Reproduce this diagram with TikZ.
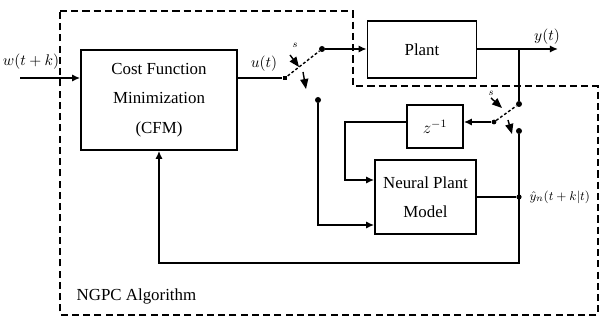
\documentclass[tikz,border=0pt]{standalone}
\usepackage{fontspec}
\setmainfont{Liberation Serif}
\usepackage{amsmath}
\usetikzlibrary{arrows.meta,positioning,calc}
\begin{document}
\begin{tikzpicture}[x=0.025cm, y=-0.025cm,
    block/.style={draw, rectangle, line width=1.2pt, align=center, font=\rmfamily\fontsize{12}{21}\selectfont},
    arrow/.style={-{Latex[length=2mm,width=1.8mm]}, line width=1.2pt},
    wire/.style={line width=1.2pt},
    contact/.style={circle, fill, inner sep=0pt, minimum size=1.5mm},
    blade/.style={dash pattern=on 2pt off 1.5pt, line width=1pt},
    swarrow/.style={-{Triangle[length=2.5mm,width=2mm]}, line width=1pt},
    border/.style={dash pattern=on 5pt off 3pt, line width=1pt},
    lbl/.style={font=\rmfamily\fontsize{11}{13}\selectfont, inner sep=1pt}
]
\useasboundingbox (0,0) rectangle (601,320);

\draw[border] (60,11) -- (353,11) -- (353,86) -- (598,86) -- (598,315) -- (60,315) -- cycle;

\node[block, minimum width=3.9cm, minimum height=2.5cm] (cfm) at (159,100) {Cost Function\\Minimization\\(CFM)};
\node[block, minimum width=2.725cm, minimum height=1.425cm] (plant) at (422,49.5) {Plant};
\node[block, minimum width=1.4cm, minimum height=1.075cm] (delay) at (435,126.5) {$z^{-1}$};
\node[block, minimum width=2.525cm, minimum height=1.85cm] (npm) at (425.5,197) {Neural Plant\\Model};

\coordinate (in) at (20,78);
\node[lbl] (ref) at (31,62) {$w(t+k)$};
\draw[arrow] (in) -- (in -| cfm.west);

\node[rectangle, fill, inner sep=0pt, minimum size=1.2mm] (piv1) at (285,78) {};
\node[contact] (up1) at (322,49) {};
\node[contact] (lo1) at (318,100) {};
\draw[wire] (cfm.east |- piv1) -- (piv1);
\node[lbl] (u) at (264,64) {$u(t)$};
\draw[blade] (piv1) -- (up1);
\coordinate (s1a) at (290,55);
\coordinate (s1b) at (299,67);
\coordinate (s1c) at (303,72);
\coordinate (s1d) at (306,89);
\draw[swarrow] (s1a) -- (s1b);
\draw[swarrow] (s1c) -- (s1d);
\node[font=\scriptsize, inner sep=0pt] (s1) at (295,45) {$s$};

\draw[arrow] (up1) -- (up1 -| plant.west);
\coordinate (yout) at (558,49);
\draw[arrow] (plant.east |- up1) -- (yout);
\node[lbl] (y) at (547,37) {$y(t)$};

\coordinate (br) at (519,49);
\node[contact] (up2) at (519,104) {};
\node[contact, minimum size=1.2mm] (piv2) at (494,122) {};
\node[contact] (lo2) at (519,131) {};
\draw[wire] (br) -- (up2);
\draw[blade] (piv2) -- (up2);
\coordinate (s2a) at (491,98);
\coordinate (s2b) at (502,108);
\coordinate (s2c) at (508,120);
\coordinate (s2d) at (512,134);
\draw[swarrow] (s2a) -- (s2b);
\draw[swarrow] (s2c) -- (s2d);
\node[font=\scriptsize, inner sep=0pt] (s2) at (491,93) {$s$};

\draw[arrow] (piv2) -- (delay.east |- piv2);
\coordinate (fb1) at (345,180);
\draw[arrow] (delay.west |- piv2) -| (fb1) -- (fb1 -| npm.west);
\coordinate (fb2) at (318,225);
\draw[arrow] (lo1) -- (fb2) -- (fb2 -| npm.west);

\node[contact, minimum size=1.3mm] (jn) at (519,197) {};
\draw[wire] (npm.east |- jn) -- (jn);
\coordinate (bot) at (519,263);
\draw[arrow] (lo2) -- (bot) -| (cfm.south);
\node[lbl, font=\rmfamily\fontsize{9.5}{11}\selectfont, anchor=west] (yhat) at (528,197) {$\hat{y}_n(t+k|t)$};

\node[lbl, font=\rmfamily\fontsize{12}{14}\selectfont, anchor=west] (alg) at (75,296) {NGPC Algorithm};
\end{tikzpicture}
\end{document}
